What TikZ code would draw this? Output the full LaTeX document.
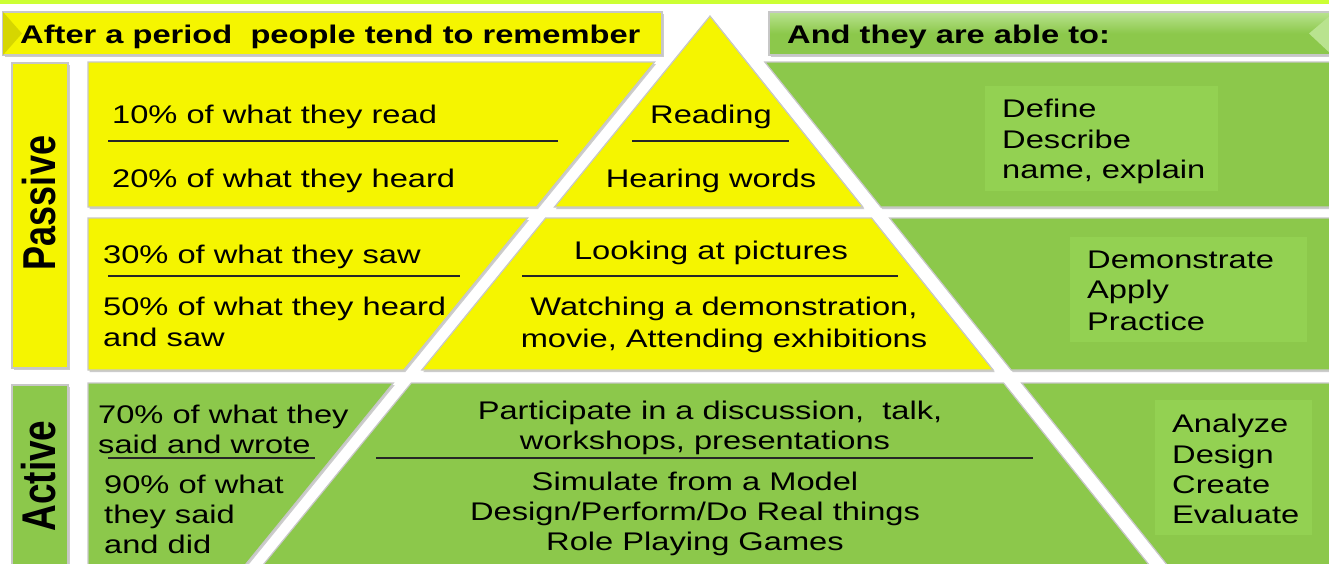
\documentclass[tikz,border=0pt]{standalone}
\usepackage{fontspec}
\setmainfont{Liberation Sans}[FakeStretch=1.28]
\newfontfamily\rotfont{Liberation Sans}
\usepackage{graphicx}
\definecolor{pyel}{HTML}{F5F500}
\definecolor{pyeldark}{HTML}{D6D600}
\definecolor{pgrn}{HTML}{8CC84B}
\definecolor{pgrnlight}{HTML}{B9E38F}
\definecolor{pgrnin}{HTML}{93D152}
\definecolor{topbar}{HTML}{CCFF33}
\tikzset{
  shadowed/.style={preaction={fill=black!20, transform canvas={shift={(1.5pt,-2pt)}}}},
  piece/.style={draw=black!22, line width=1.2pt, shadowed},
  yel/.style={piece, fill=pyel},
  grn/.style={piece, fill=pgrn},
  body/.style={inner sep=0pt, font=\fontsize{25.5}{31}\selectfont},
  head/.style={inner sep=0pt, font=\bfseries\fontsize{25.5}{31}\selectfont},
  rule/.style={line width=1.1pt, draw=black!85},
  inbox/.style={fill=pgrnin, draw=none},
  side/.style={rotate=90, inner sep=0pt},
}
\begin{document}
\begin{tikzpicture}[x=1pt,y=-1pt]
\useasboundingbox (0,0) rectangle (1329,563);
\fill[white] (0,0) rectangle (1329,563);
\fill[topbar] (0,0) rectangle (1329,3.5);

% header boxes
\path[yel] (3,12) rectangle (662,55);
\fill[pyeldark] (3,12) -- (22,33.5) -- (3,55) -- cycle;
\path[piece, top color=pgrnlight, bottom color=pgrn, middle color=pgrn] (769,12) rectangle (1332,55);
\fill[pgrnlight] (1332,14) -- (1309,33.5) -- (1332,55) -- cycle;
\node[head, anchor=base west] (hl) at (20,43) {After a period\ \ people tend to remember};
\node[head, anchor=base west] (hr) at (787,43) {And they are able to:};

% side labels
\path[yel] (12,63) rectangle (68,368);
\path[grn] (12,385) rectangle (68,567);
\node[side] (passive) at (39,203) {\scalebox{1}[1.28]{\rotfont\bfseries\fontsize{36}{40}\selectfont Passive}};
\node[side] (active) at (39,476) {\scalebox{1}[1.28]{\rotfont\bfseries\fontsize{37}{40}\selectfont Active}};

% row 1
\path[yel] (88,62) -- (654.6,62) -- (536.5,207) -- (88,207) -- cycle;
\path[yel] (710,16) -- (862.8,207) -- (554.5,207) -- cycle;
\path[grn] (764.8,62) -- (1332,62) -- (1332,207) -- (880.8,207) -- cycle;
% row 2
\path[yel] (88,218) -- (527.6,218) -- (403.8,370) -- (88,370) -- cycle;
\path[yel] (545.6,218) -- (871.6,218) -- (993.2,370) -- (421.8,370) -- cycle;
\path[grn] (889.6,218) -- (1332,218) -- (1332,370) -- (1011.2,370) -- cycle;
% row 3
\path[grn] (88,383) -- (393.3,383) -- (243.5,567) -- (88,567) -- cycle;
\path[grn] (411.3,383) -- (1003.6,383) -- (1150.8,567) -- (261.4,567) -- cycle;
\path[grn] (1021.6,383) -- (1332,383) -- (1332,567) -- (1168.8,567) -- cycle;

% inner boxes on the right
\fill[inbox] (985,86) rectangle (1218,191);
\fill[inbox] (1070,237) rectangle (1307,342);
\fill[inbox] (1155,400) rectangle (1312,535);

% dividers
\draw[rule] (108,141) -- (558,141);
\draw[rule] (632,141) -- (789,141);
\draw[rule] (108,276) -- (460,276);
\draw[rule] (522,276) -- (898,276);
\draw[rule] (108,458) -- (315,458);
\draw[rule] (376,458) -- (1033,458);

% row 1 texts
\node[body, anchor=base west] (t10) at (112,123) {10\% of what they read};
\node[body, anchor=base west] (t20) at (112,187) {20\% of what they heard};
\node[body, anchor=base] (read) at (711,123) {Reading};
\node[body, anchor=base] (hear) at (711,187) {Hearing words};
\node[body, anchor=base west] (def) at (1002,117) {Define};
\node[body, anchor=base west] (des) at (1002,148) {Describe};
\node[body, anchor=base west] (nam) at (1002,178) {name, explain};

% row 2 texts
\node[body, anchor=base west] (t30) at (103,263) {30\% of what they saw};
\node[body, anchor=base west] (t50a) at (103,315) {50\% of what they heard};
\node[body, anchor=base west] (t50b) at (103,346) {and saw};
\node[body, anchor=base] (look) at (711,259) {Looking at pictures};
\node[body, anchor=base] (watch) at (724,315) {Watching a demonstration,};
\node[body, anchor=base] (movie) at (724,347) {movie, Attending exhibitions};
\node[body, anchor=base west] (demo) at (1087,268) {Demonstrate};
\node[body, anchor=base west] (appl) at (1087,298) {Apply};
\node[body, anchor=base west] (prac) at (1087,330) {Practice};

% row 3 texts
\node[body, anchor=base west] (t70a) at (98,423) {70\% of what they};
\node[body, anchor=base west] (t70b) at (98,453) {said and wrote};
\node[body, anchor=base west] (t90a) at (104,493) {90\% of what};
\node[body, anchor=base west] (t90b) at (104,523) {they said};
\node[body, anchor=base west] (t90c) at (104,553) {and did};
\node[body, anchor=base] (part) at (710,419) {Participate in a discussion,\ \ talk,};
\node[body, anchor=base] (work) at (705,449) {workshops, presentations};
\node[body, anchor=base] (simu) at (695,490) {Simulate from a Model};
\node[body, anchor=base] (desi) at (695,520) {Design/Perform/Do Real things};
\node[body, anchor=base] (role) at (695,550) {Role Playing Games};
\node[body, anchor=base west] (anal) at (1172,432) {Analyze};
\node[body, anchor=base west] (dsgn) at (1172,463) {Design};
\node[body, anchor=base west] (crea) at (1172,493) {Create};
\node[body, anchor=base west] (eval) at (1172,523) {Evaluate};
\end{tikzpicture}
\end{document}
